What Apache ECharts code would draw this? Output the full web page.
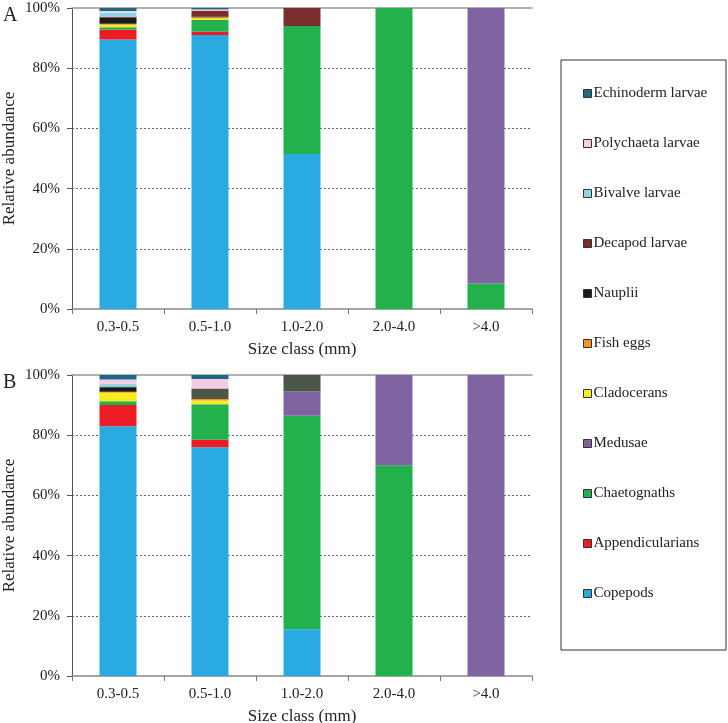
<!DOCTYPE html>
<html>
<head>
<meta charset="utf-8">
<script src="https://cdn.jsdelivr.net/npm/echarts@6/dist/echarts.min.js"></script>
<style>html,body{margin:0;padding:0;background:#fff;}#c{width:728px;height:723px;}</style>
</head>
<body>
<div id="c"></div>
<script>
const categories = ['0.3-0.5', '0.5-1.0', '1.0-2.0', '2.0-4.0', '>4.0'];
const yTicks = [0, 20, 40, 60, 80, 100];
// stacking order from bottom to top
const seriesNames = ['Copepods', 'Appendicularians', 'Chaetognaths', 'Medusae', 'Cladocerans', 'Fish eggs', 'Nauplii', 'Others', 'Decapod larvae', 'Bivalve larvae', 'Polychaeta larvae', 'Echinoderm larvae'];
const legendNames = ['Echinoderm larvae', 'Polychaeta larvae', 'Bivalve larvae', 'Decapod larvae', 'Nauplii', 'Fish eggs', 'Cladocerans', 'Medusae', 'Chaetognaths', 'Appendicularians', 'Copepods'];
const colors = ['#29abe2', '#ed1c24', '#22b14c', '#8064a2', '#f7ec1e', '#f7941d', '#1a1a1a', '#4b5548', '#7b2c2c', '#93d5e8', '#f3cde3', '#1f6a82'];

// Panel A values (%), per series, per size class
const copepodsA = [89.5, 91.0, 51.5, 0, 0];
const appendA = [3.3, 1.1, 0, 0, 0];
const chaetA = [0.8, 3.9, 42.5, 100, 8.5];
const medusaeA = [0, 0, 0, 0, 91.5];
const cladoA = [0.8, 0.6, 0, 0, 0];
const fishA = [0.4, 0.3, 0, 0, 0];
const naupliiA = [2.0, 0.2, 0, 0, 0];
const othersA = [0, 0, 0, 0, 0];
const decapodA = [0.3, 2.0, 6.0, 0, 0];
const bivalveA = [1.4, 0, 0, 0, 0];
const polyA = [0.5, 0.4, 0, 0, 0];
const echinoA = [1.0, 0.5, 0, 0, 0];

// Panel B values (%)
const copepodsB = [83.0, 76.0, 15.5, 0, 0];
const appendB = [7.0, 2.5, 0, 0, 0];
const chaetB = [1.3, 11.8, 71.0, 70, 0];
const medusaeB = [0, 0, 8.0, 30, 100];
const cladoB = [2.8, 1.2, 0, 0, 0];
const fishB = [0.3, 0.5, 0, 0, 0];
const naupliiB = [1.3, 0, 0, 0, 0];
const othersB = [0.5, 3.5, 5.5, 0, 0];
const decapodB = [0, 0, 0, 0, 0];
const bivalveB = [0.8, 0, 0, 0, 0];
const polyB = [1.5, 3.2, 0, 0, 0];
const echinoB = [1.5, 1.3, 0, 0, 0];

const dataA = [copepodsA, appendA, chaetA, medusaeA, cladoA, fishA, naupliiA, othersA, decapodA, bivalveA, polyA, echinoA];
const dataB = [copepodsB, appendB, chaetB, medusaeB, cladoB, fishB, naupliiB, othersB, decapodB, bivalveB, polyB, echinoB];

const FONT = 'Liberation Serif';
const chart = echarts.init(document.getElementById('c'));

function xAxisFor(gi) {
  return {
    type: 'category', gridIndex: gi, data: categories,
    boundaryGap: true,
    axisLine: { show: true, lineStyle: { color: '#888', width: 1.5 } },
    axisTick: { show: true, alignWithLabel: false, length: 5, inside: false, lineStyle: { color: '#777' } },
    axisLabel: { color: '#222', fontFamily: FONT, fontSize: 15, margin: 11 },
    name: 'Size class (mm)', nameLocation: 'middle', nameGap: 32, nameMoveOverlap: false,
    nameTextStyle: { color: '#222', fontFamily: FONT, fontSize: 17 }
  };
}
function topAxisFor(gi) {
  return {
    type: 'category', gridIndex: gi, data: categories, position: 'top',
    axisLine: { show: true, lineStyle: { color: '#999', width: 1.5 } },
    axisTick: { show: false }, axisLabel: { show: false }, splitLine: { show: false }
  };
}
function yAxisFor(gi) {
  return {
    type: 'value', gridIndex: gi, min: 0, max: 100, interval: 20,
    axisLine: { show: true, lineStyle: { color: '#555', width: 1 } },
    axisTick: { show: true, length: 5, lineStyle: { color: '#555' } },
    axisLabel: { color: '#222', fontFamily: FONT, fontSize: 15, margin: 12, formatter: '{value}%' },
    splitLine: { show: true, showMinLine: false, showMaxLine: false, lineStyle: { color: '#666', type: [2, 2], width: 1 } },
    name: 'Relative abundance', nameLocation: 'middle', nameGap: 54, nameRotate: 90, nameMoveOverlap: false,
    nameTextStyle: { color: '#222', fontFamily: FONT, fontSize: 17 }
  };
}

const series = [];
[dataA, dataB].forEach((d, gi) => {
  seriesNames.forEach((n, i) => {
    series.push({
      name: n, type: 'bar', stack: 'p' + gi,
      xAxisIndex: gi, yAxisIndex: gi,
      barWidth: 37,
      itemStyle: { color: colors[i] },
      data: d[i],
      animation: false
    });
  });
});

chart.setOption({
  animation: false,
  grid: [
    { left: 72, right: 196, top: 8, height: 301, containLabel: false, outerBoundsMode: 'none' },
    { left: 72, right: 196, top: 375, height: 301, containLabel: false, outerBoundsMode: 'none' }
  ],
  xAxis: [xAxisFor(0), xAxisFor(1), topAxisFor(0), topAxisFor(1)],
  yAxis: [yAxisFor(0), yAxisFor(1)],
  legend: {
    orient: 'vertical', left: 583, top: 86, padding: 0,
    data: legendNames,
    icon: 'rect', itemWidth: 8, itemHeight: 8, itemGap: 35,
    itemStyle: { borderColor: '#333', borderWidth: 1 },
    textStyle: { color: '#222', fontFamily: FONT, fontSize: 15, lineHeight: 14, padding: [0, 0, 0, -3] },
    selectedMode: false
  },
  graphic: [
    { type: 'rect', shape: { x: 561, y: 60, width: 165, height: 590 }, style: { fill: 'none', stroke: '#333', lineWidth: 1 }, silent: true },
    { type: 'text', left: 3, top: 6, style: { text: 'A', font: '20px "Liberation Serif"', fill: '#222' } },
    { type: 'text', left: 3, top: 373, style: { text: 'B', font: '20px "Liberation Serif"', fill: '#222' } }
  ],
  series: series
});
</script>
</body>
</html>
